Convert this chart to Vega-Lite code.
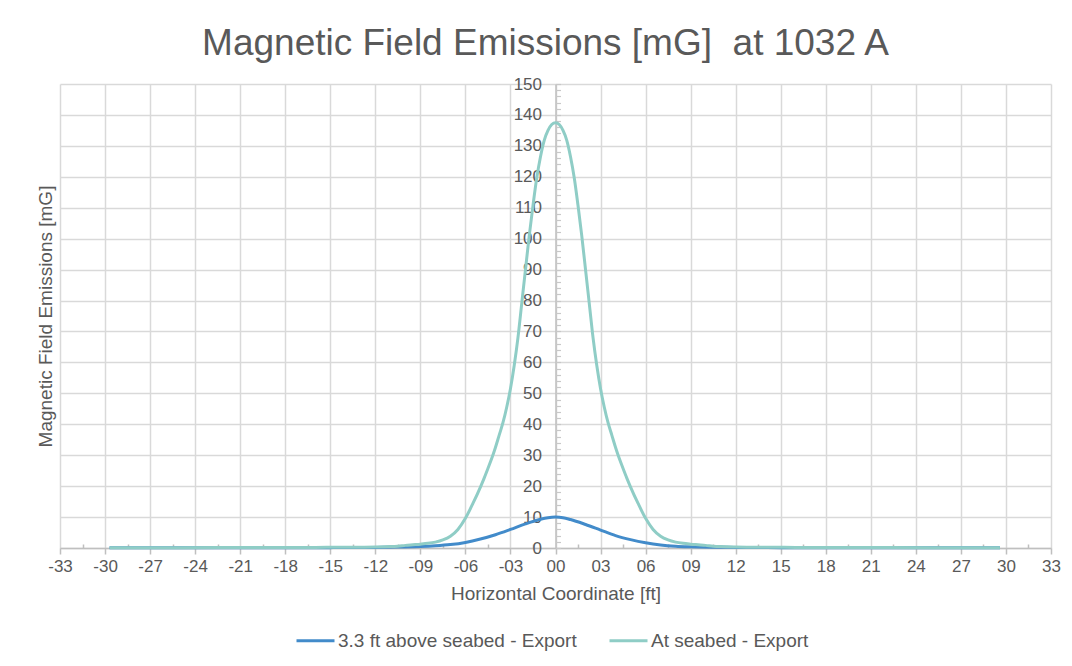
{
  "$schema": "https://vega.github.io/schema/vega-lite/v6.json",
  "width": 991,
  "height": 464,
  "autosize": {"type": "none"},
  "padding": {"left": 60, "top": 84, "right": 21, "bottom": 118},
  "background": "white",
  "title": {
    "text": "Magnetic Field Emissions [mG]\u00a0 at 1032 A",
    "fontSize": 37,
    "font": "Liberation Sans",
    "fontWeight": "normal",
    "color": "#595959",
    "anchor": "middle",
    "dx": -10,
    "offset": 12
  },
  "config": {
    "font": "Liberation Sans",
    "view": {"stroke": null},
    "axis": {"labelColor": "#595959", "titleColor": "#595959", "labelFont": "Liberation Sans", "titleFont": "Liberation Sans", "titleFontWeight": "normal"}
  },
  "data": {
    "values": [
      {"x": -29.7, "y": 0.05, "series": "3.3 ft above seabed - Export"},
      {"x": -20, "y": 0.08, "series": "3.3 ft above seabed - Export"},
      {"x": -15, "y": 0.12, "series": "3.3 ft above seabed - Export"},
      {"x": -12, "y": 0.2, "series": "3.3 ft above seabed - Export"},
      {"x": -10.5, "y": 0.3, "series": "3.3 ft above seabed - Export"},
      {"x": -9, "y": 0.45, "series": "3.3 ft above seabed - Export"},
      {"x": -8, "y": 0.7, "series": "3.3 ft above seabed - Export"},
      {"x": -7, "y": 1.1, "series": "3.3 ft above seabed - Export"},
      {"x": -6, "y": 1.8, "series": "3.3 ft above seabed - Export"},
      {"x": -5, "y": 2.9, "series": "3.3 ft above seabed - Export"},
      {"x": -4, "y": 4.3, "series": "3.3 ft above seabed - Export"},
      {"x": -3, "y": 6.0, "series": "3.3 ft above seabed - Export"},
      {"x": -2, "y": 7.8, "series": "3.3 ft above seabed - Export"},
      {"x": -1, "y": 9.3, "series": "3.3 ft above seabed - Export"},
      {"x": -0.5, "y": 9.8, "series": "3.3 ft above seabed - Export"},
      {"x": 0, "y": 10, "series": "3.3 ft above seabed - Export"},
      {"x": 0.5, "y": 9.8, "series": "3.3 ft above seabed - Export"},
      {"x": 1, "y": 9.2, "series": "3.3 ft above seabed - Export"},
      {"x": 2, "y": 7.6, "series": "3.3 ft above seabed - Export"},
      {"x": 3, "y": 5.8, "series": "3.3 ft above seabed - Export"},
      {"x": 4, "y": 4.0, "series": "3.3 ft above seabed - Export"},
      {"x": 5, "y": 2.7, "series": "3.3 ft above seabed - Export"},
      {"x": 6, "y": 1.7, "series": "3.3 ft above seabed - Export"},
      {"x": 7, "y": 1.0, "series": "3.3 ft above seabed - Export"},
      {"x": 8, "y": 0.6, "series": "3.3 ft above seabed - Export"},
      {"x": 9, "y": 0.4, "series": "3.3 ft above seabed - Export"},
      {"x": 10.5, "y": 0.25, "series": "3.3 ft above seabed - Export"},
      {"x": 12, "y": 0.18, "series": "3.3 ft above seabed - Export"},
      {"x": 15, "y": 0.12, "series": "3.3 ft above seabed - Export"},
      {"x": 20, "y": 0.08, "series": "3.3 ft above seabed - Export"},
      {"x": 29.6, "y": 0.05, "series": "3.3 ft above seabed - Export"},
      {"x": -29.7, "y": 0.1, "series": "At seabed - Export"},
      {"x": -25, "y": 0.12, "series": "At seabed - Export"},
      {"x": -20, "y": 0.15, "series": "At seabed - Export"},
      {"x": -16, "y": 0.2, "series": "At seabed - Export"},
      {"x": -13, "y": 0.27, "series": "At seabed - Export"},
      {"x": -12, "y": 0.32, "series": "At seabed - Export"},
      {"x": -11, "y": 0.45, "series": "At seabed - Export"},
      {"x": -10.5, "y": 0.6, "series": "At seabed - Export"},
      {"x": -10, "y": 0.85, "series": "At seabed - Export"},
      {"x": -9.5, "y": 1.05, "series": "At seabed - Export"},
      {"x": -9, "y": 1.25, "series": "At seabed - Export"},
      {"x": -8.5, "y": 1.5, "series": "At seabed - Export"},
      {"x": -8, "y": 1.9, "series": "At seabed - Export"},
      {"x": -7.5, "y": 2.6, "series": "At seabed - Export"},
      {"x": -7, "y": 3.8, "series": "At seabed - Export"},
      {"x": -6.5, "y": 6.0, "series": "At seabed - Export"},
      {"x": -6, "y": 9.6, "series": "At seabed - Export"},
      {"x": -5.5, "y": 14.4, "series": "At seabed - Export"},
      {"x": -5, "y": 19.7, "series": "At seabed - Export"},
      {"x": -4.75, "y": 22.6, "series": "At seabed - Export"},
      {"x": -4.5, "y": 25.7, "series": "At seabed - Export"},
      {"x": -4.25, "y": 28.9, "series": "At seabed - Export"},
      {"x": -4, "y": 32.5, "series": "At seabed - Export"},
      {"x": -3.75, "y": 36.5, "series": "At seabed - Export"},
      {"x": -3.5, "y": 40.5, "series": "At seabed - Export"},
      {"x": -3.25, "y": 45.5, "series": "At seabed - Export"},
      {"x": -3, "y": 51.5, "series": "At seabed - Export"},
      {"x": -2.75, "y": 59, "series": "At seabed - Export"},
      {"x": -2.5, "y": 68, "series": "At seabed - Export"},
      {"x": -2.25, "y": 79, "series": "At seabed - Export"},
      {"x": -2, "y": 90, "series": "At seabed - Export"},
      {"x": -1.75, "y": 100.9, "series": "At seabed - Export"},
      {"x": -1.5, "y": 110.7, "series": "At seabed - Export"},
      {"x": -1.25, "y": 119.6, "series": "At seabed - Export"},
      {"x": -1, "y": 126.5, "series": "At seabed - Export"},
      {"x": -0.75, "y": 131.8, "series": "At seabed - Export"},
      {"x": -0.5, "y": 135, "series": "At seabed - Export"},
      {"x": -0.25, "y": 136.9, "series": "At seabed - Export"},
      {"x": 0, "y": 137.5, "series": "At seabed - Export"},
      {"x": 0.25, "y": 136.9, "series": "At seabed - Export"},
      {"x": 0.5, "y": 135, "series": "At seabed - Export"},
      {"x": 0.75, "y": 131.8, "series": "At seabed - Export"},
      {"x": 1, "y": 126.5, "series": "At seabed - Export"},
      {"x": 1.25, "y": 119.6, "series": "At seabed - Export"},
      {"x": 1.5, "y": 110.7, "series": "At seabed - Export"},
      {"x": 1.75, "y": 100.9, "series": "At seabed - Export"},
      {"x": 2, "y": 90, "series": "At seabed - Export"},
      {"x": 2.25, "y": 79, "series": "At seabed - Export"},
      {"x": 2.5, "y": 68, "series": "At seabed - Export"},
      {"x": 2.75, "y": 59, "series": "At seabed - Export"},
      {"x": 3, "y": 51.5, "series": "At seabed - Export"},
      {"x": 3.25, "y": 45.5, "series": "At seabed - Export"},
      {"x": 3.5, "y": 40.5, "series": "At seabed - Export"},
      {"x": 3.75, "y": 36.5, "series": "At seabed - Export"},
      {"x": 4, "y": 32.5, "series": "At seabed - Export"},
      {"x": 4.25, "y": 28.9, "series": "At seabed - Export"},
      {"x": 4.5, "y": 25.7, "series": "At seabed - Export"},
      {"x": 4.75, "y": 22.6, "series": "At seabed - Export"},
      {"x": 5, "y": 19.7, "series": "At seabed - Export"},
      {"x": 5.5, "y": 14.4, "series": "At seabed - Export"},
      {"x": 6, "y": 9.6, "series": "At seabed - Export"},
      {"x": 6.5, "y": 6.0, "series": "At seabed - Export"},
      {"x": 7, "y": 3.8, "series": "At seabed - Export"},
      {"x": 7.5, "y": 2.6, "series": "At seabed - Export"},
      {"x": 8, "y": 1.9, "series": "At seabed - Export"},
      {"x": 8.5, "y": 1.5, "series": "At seabed - Export"},
      {"x": 9, "y": 1.25, "series": "At seabed - Export"},
      {"x": 9.5, "y": 1.05, "series": "At seabed - Export"},
      {"x": 10, "y": 0.85, "series": "At seabed - Export"},
      {"x": 10.5, "y": 0.6, "series": "At seabed - Export"},
      {"x": 11, "y": 0.45, "series": "At seabed - Export"},
      {"x": 12, "y": 0.32, "series": "At seabed - Export"},
      {"x": 13, "y": 0.27, "series": "At seabed - Export"},
      {"x": 16, "y": 0.2, "series": "At seabed - Export"},
      {"x": 20, "y": 0.15, "series": "At seabed - Export"},
      {"x": 25, "y": 0.12, "series": "At seabed - Export"},
      {"x": 29.6, "y": 0.1, "series": "At seabed - Export"}
    ]
  },
  "resolve": {"axis": {"x": "independent", "y": "independent"}},
  "layer": [
    {
      "mark": {"type": "line", "strokeWidth": 3, "interpolate": "monotone"},
      "encoding": {
        "x": {
          "field": "x", "type": "quantitative",
          "scale": {"domain": [-33, 33], "nice": false, "zero": false},
          "axis": {
            "orient": "bottom",
            "values": [-33,-30,-27,-24,-21,-18,-15,-12,-9,-6,-3,0,3,6,9,12,15,18,21,24,27,30,33],
            "labelExpr": "(datum.value < 0 ? '-' : '') + (abs(datum.value) < 10 ? '0' : '') + abs(datum.value)",
            "title": "Horizontal Coordinate [ft]",
            "grid": true, "gridColor": "#d9d9d9", "gridWidth": 1.5,
            "domainColor": "#bfbfbf", "domainWidth": 1.5,
            "tickColor": "#bfbfbf", "tickSize": 6, "tickWidth": 1.5,
            "labelFontSize": 17, "labelPadding": 4, "labelFlush": false,
            "titleFontSize": 19, "titlePadding": 10
          }
        },
        "y": {
          "field": "y", "type": "quantitative",
          "scale": {"domain": [0, 150], "nice": false},
          "axis": {
            "orient": "left",
            "values": [0,10,20,30,40,50,60,70,80,90,100,110,120,130,140,150],
            "title": "Magnetic Field Emissions [mG]",
            "labels": false, "ticks": false, "domain": false,
            "grid": true, "gridColor": "#d9d9d9", "gridWidth": 1.5,
            "titleFontSize": 19, "titlePadding": 5
          }
        },
        "color": {
          "field": "series", "type": "nominal",
          "scale": {"domain": ["3.3 ft above seabed - Export", "At seabed - Export"], "range": ["#428bca", "#8fcdc6"]},
          "legend": {
            "title": null, "orient": "none", "direction": "horizontal",
            "legendX": 235, "legendY": 536,
            "symbolType": "stroke", "symbolSize": 1444, "symbolStrokeWidth": 3,
            "labelFontSize": 19, "labelColor": "#595959", "labelFont": "Liberation Sans",
            "labelLimit": 500,
            "columnPadding": 26, "labelOffset": 2
          }
        }
      }
    },
    {
      "mark": {"type": "line", "opacity": 0},
      "encoding": {
        "x": {
          "field": "x", "type": "quantitative",
          "axis": {
            "orient": "top", "offset": -464,
            "values": [-31.5,-28.5,-25.5,-22.5,-19.5,-16.5,-13.5,-10.5,-7.5,-4.5,-1.5,1.5,4.5,7.5,10.5,13.5,16.5,19.5,22.5,25.5,28.5,31.5],
            "labels": false, "domain": false, "grid": false, "title": null,
            "tickColor": "#bfbfbf", "tickSize": 4, "tickWidth": 1.5
          }
        },
        "y": {
          "field": "y", "type": "quantitative",
          "axis": {
            "orient": "left", "offset": -495.5,
            "values": [0,10,20,30,40,50,60,70,80,90,100,110,120,130,140,150],
            "title": null, "grid": false, "ticks": false,
            "domain": true, "domainColor": "#bfbfbf", "domainWidth": 1.5,
            "labelFontSize": 17, "labelPadding": 14, "labelFlush": false
          }
        }
      }
    },
    {
      "mark": {"type": "line", "opacity": 0},
      "encoding": {
        "x": {"field": "x", "type": "quantitative", "axis": null},
        "y": {
          "field": "y", "type": "quantitative",
          "axis": {
            "orient": "right", "offset": -495.5,
            "values": [0,2,4,6,8,10,12,14,16,18,20,22,24,26,28,30,32,34,36,38,40,42,44,46,48,50,52,54,56,58,60,62,64,66,68,70,72,74,76,78,80,82,84,86,88,90,92,94,96,98,100,102,104,106,108,110,112,114,116,118,120,122,124,126,128,130,132,134,136,138,140,142,144,146,148,150],
            "labels": false, "domain": false, "grid": false, "title": null,
            "tickColor": "#c8c8c8", "tickSize": 5, "tickWidth": 1.2
          }
        }
      }
    }
  ]
}
